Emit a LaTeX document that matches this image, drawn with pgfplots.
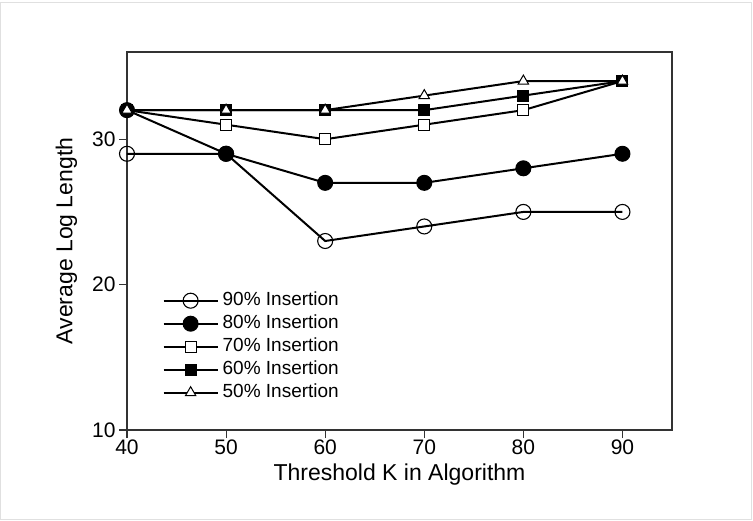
\documentclass[border=0pt]{standalone}
\usepackage{fontspec}
\setmainfont{Liberation Sans}
\usepackage{pgfplots}
\pgfplotsset{compat=1.18}

\begin{document}
\begin{tikzpicture}[x=1pt,y=1pt]
\path[use as bounding box] (0,0) rectangle (753,520);
\draw[black!12,line width=1pt] (0.5,0.5) rectangle (751,517);
\begin{axis}[
    scale only axis,
    width=545pt, height=378pt,
    anchor=south west, at={(127pt,90pt)},
    xmin=40, xmax=95, ymin=10, ymax=36,
    xtick={40,50,60,70,80,90},
    ytick={10,20,30},
    tick align=outside,
    tick pos=left,
    major tick length=8pt,
    axis line style={line width=1.3pt, black!80},
    every tick/.style={line width=1.1pt, black!80},
    /pgf/number format/assume math mode=true,
    tick label style={font=\fontsize{21}{24}\selectfont},
    xlabel={Threshold K in Algorithm},
    ylabel={Average Log Length},
    label style={font=\fontsize{23}{26}\selectfont},
    xlabel style={yshift=-3pt},
    ylabel style={yshift=8pt},
    xticklabel style={yshift=2pt},
    legend style={draw=none, fill=none, at={(0.065,0.373)}, anchor=north west,
        font=\fontsize{19}{22}\selectfont, inner sep=0pt,
        nodes={inner xsep=4pt, inner ysep=1.5pt, text height=15pt, text depth=5pt}},
    legend cell align=left,
    legend image code/.code={
        \draw[#1, mark repeat=2, mark phase=2] plot coordinates {(0pt,0pt) (27pt,0pt) (54pt,0pt)};
    },
    every axis plot/.append style={line width=2pt, black},
]
\addplot[mark=o, mark size=7.5pt, mark options={fill=white, line width=1.1pt}] coordinates {
    (40,29) (50,29) (60,23) (70,24) (80,25) (90,25)
};
\addlegendentry{90\% Insertion}
\addplot[mark=*, mark size=7.5pt, mark options={fill=black, line width=1pt}] coordinates {
    (40,32) (50,29) (60,27) (70,27) (80,28) (90,29)
};
\addlegendentry{80\% Insertion}
\addplot[mark=square*, mark size=5.5pt, mark options={fill=white, line width=1pt}] coordinates {
    (40,32) (50,31) (60,30) (70,31) (80,32) (90,34)
};
\addlegendentry{70\% Insertion}
\addplot[mark=square*, mark size=5.5pt, mark options={fill=black, line width=1pt}] coordinates {
    (40,32) (50,32) (60,32) (70,32) (80,33) (90,34)
};
\addlegendentry{60\% Insertion}
\addplot[mark=triangle*, mark size=6pt, mark options={fill=white, line width=1pt}] coordinates {
    (40,32) (50,32) (60,32) (70,33) (80,34) (90,34)
};
\addlegendentry{50\% Insertion}
\end{axis}
\end{tikzpicture}
\end{document}
